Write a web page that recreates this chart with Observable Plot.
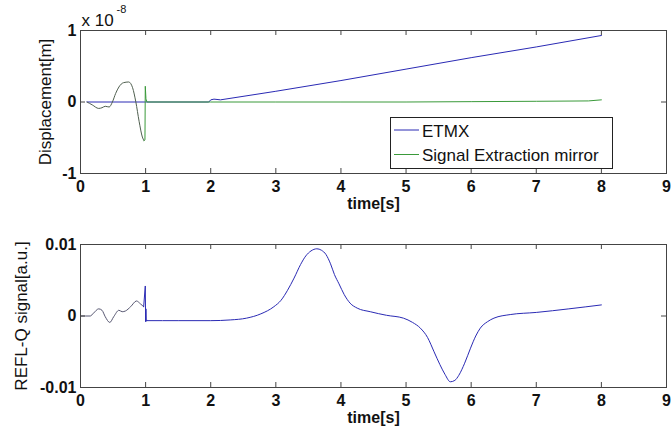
<!DOCTYPE html>
<html><head><meta charset="utf-8">
<script src="https://cdn.jsdelivr.net/npm/d3@7"></script>
<script src="https://cdn.jsdelivr.net/npm/@observablehq/plot@0.6"></script>
<style>
body{margin:0;background:#fff}
#wrap{position:relative;width:672px;height:436px;overflow:hidden;background:#fff;font-family:"Liberation Sans",Arial,sans-serif}
#wrap > svg{position:absolute;left:0}
</style>
</head><body><div id="wrap"></div>
<script>
// ---- data ----
const timeTicks = [0, 1, 2, 3, 4, 5, 6, 7, 8, 9];
const dispTicks = [-1e-8, 0, 1e-8];
const reflTicks = [-0.01, 0, 0.01];
const seriesNames = ["ETMX", "Signal Extraction mirror"];

// ETMX displacement [m]
const etmxT = [0.1, 1.0, 1.97, 2.0, 2.05, 2.15, 3, 4, 5, 6, 7, 8];
const etmxY = [0, 0, 0, 0.03e-8, 0.04e-8, 0.03e-8, 0.15e-8, 0.30e-8, 0.46e-8, 0.62e-8, 0.77e-8, 0.93e-8];

// Signal Extraction mirror displacement [m]
const semT = [0.1, 0.18, 0.28, 0.33, 0.38, 0.44, 0.49, 0.54, 0.59, 0.66, 0.74, 0.8, 0.85, 0.9, 0.95, 0.975, 0.99, 0.995, 1.005, 1.01, 1.02, 2, 3, 4, 5, 6, 7, 7.8, 8];
const semY = [0, -0.04e-8, -0.09e-8, -0.08e-8, -0.06e-8, -0.07e-8, 0, 0.12e-8, 0.21e-8, 0.27e-8, 0.28e-8, 0.2e-8, 0, -0.27e-8, -0.49e-8, -0.54e-8, -0.53e-8, 0.22e-8, 0.05e-8, 0.03e-8, 0, 0, 0, 0, 0, 0.005e-8, 0.01e-8, 0.015e-8, 0.03e-8];

// REFL-Q signal [a.u.]
const reflT = [0, 0.15, 0.2, 0.28, 0.33, 0.38, 0.45, 0.51, 0.59, 0.64, 0.69, 0.77, 0.86, 0.92, 0.97, 0.995, 1.0, 1.005, 1.01, 1.02, 1.5, 2.0, 2.3, 2.55, 2.77, 2.97, 3.08, 3.18, 3.28, 3.38, 3.46, 3.54, 3.63, 3.7, 3.77, 3.84, 3.9, 3.97, 4.05, 4.14, 4.25, 4.45, 4.7, 4.96, 5.1, 5.22, 5.33, 5.43, 5.52, 5.6, 5.68, 5.75, 5.81, 5.9, 5.99, 6.07, 6.14, 6.25, 6.35, 6.6, 7.0, 7.5, 8.0];
const reflY = [0, 0, 0.0004, 0.0010, 0.0008, -0.0001, -0.0009, -0.0001, 0.0008, 0.0006, 0.0007, 0.0013, 0.0021, 0.0017, 0.0013, 0.0042, -0.0008, 0.0010, -0.0007, -0.00065, -0.00065, -0.00065, -0.00055, -0.0003, 0.0003, 0.0013, 0.0022, 0.0036, 0.0053, 0.0072, 0.0084, 0.0091, 0.0094, 0.0092, 0.0086, 0.0073, 0.0058, 0.0045, 0.0030, 0.0018, 0.0011, 0.0006, 0.0001, -0.0003, -0.0009, -0.0017, -0.0030, -0.0050, -0.0068, -0.0082, -0.0092, -0.0090, -0.0083, -0.0066, -0.0045, -0.0028, -0.0017, -0.0008, -0.0003, 0.0002, 0.0005, 0.0010, 0.00155];

// ---- styles ----
const BLUE = "#2a2ab4", GREEN = "#3a9a3a", GRAYG = "#4f5f4f", GRAYB = "#555570";
const FONT = "'Liberation Sans', Arial, sans-serif";
const W = 672, H = 218, ML = 80, MR = 6;

const rows = (T, Y) => T.map((t, i) => ({t, v: Y[i]}));
const etmx = rows(etmxT, etmxY), sem = rows(semT, semY), refl = rows(reflT, reflY);

function panel({mt, mb, yDomain, yTicks, yFmt, ylabel, ylabelDx, lines, extra = []}) {
  const innerH = H - mt - mb, innerW = W - ML - MR;
  return Plot.plot({
    width: W, height: H,
    marginLeft: ML, marginRight: MR, marginTop: mt, marginBottom: mb,
    style: {fontFamily: FONT, fontSize: "17px", color: "#111", background: "#fff", overflow: "visible"},
    x: {domain: [0, 9]},
    y: {domain: yDomain},
    marks: [
      ...lines,
      Plot.frame({stroke: "#444", strokeWidth: 1}),
      Plot.tickX(timeTicks, {x: d => d, insetTop: innerH - 5, stroke: "#444"}),
      Plot.tickX(timeTicks, {x: d => d, insetBottom: innerH - 5, stroke: "#444"}),
      Plot.tickY(yTicks, {y: d => d, insetRight: innerW - 5, stroke: "#444"}),
      Plot.tickY(yTicks, {y: d => d, insetLeft: innerW - 5, stroke: "#444"}),
      Plot.axisX({ticks: timeTicks, tickSize: 0, tickPadding: 7, label: null, fontSize: 16, fontWeight: "bold", tickFormat: d => String(d)}),
      Plot.axisY({ticks: yTicks, tickSize: 0, tickPadding: 4, label: null, fontSize: 16, fontWeight: "bold", tickFormat: yFmt}),
      Plot.text(["time[s]"], {frameAnchor: "bottom", text: d => d, textAnchor: "middle", lineAnchor: "middle", dy: 30, fontSize: 16, fontWeight: "bold"}),
      Plot.text([ylabel], {frameAnchor: "left", text: d => d, textAnchor: "middle", lineAnchor: "middle", rotate: -90, dx: ylabelDx, fontSize: 17}),
      ...extra
    ]
  });
}

const topPanel = panel({
  mt: 30, mb: 45,
  yDomain: [-1e-8, 1e-8], yTicks: dispTicks,
  yFmt: d => d === 0 ? "0" : String(Math.round(d / 1e-8)),
  ylabel: "Displacement[m]", ylabelDx: -35,
  lines: [
    Plot.line(etmx, {x: "t", y: "v", stroke: BLUE, strokeWidth: 1}),
    Plot.line(sem, {filter: d => d.t <= 0.975, x: "t", y: "v", stroke: GRAYG, strokeWidth: 1, curve: "monotone-x"}),
    Plot.line(sem, {filter: d => d.t >= 0.975, x: "t", y: "v", stroke: GREEN, strokeWidth: 1})
  ],
  extra: [
    Plot.text(["x 10"], {frameAnchor: "top-left", text: d => d, textAnchor: "start", lineAnchor: "middle", dx: 1, dy: -10, fontSize: 17}),
    Plot.text(["-8"], {frameAnchor: "top-left", text: d => d, textAnchor: "start", lineAnchor: "middle", dx: 36, dy: -21, fontSize: 11})
  ]
});
topPanel.style.top = "0px";

const bottomPanel = panel({
  mt: 26, mb: 49,
  yDomain: [-0.01, 0.01], yTicks: reflTicks,
  yFmt: d => d === 0 ? "0" : String(d),
  ylabel: "REFL-Q signal[a.u.]", ylabelDx: -59,
  lines: [
    Plot.line(refl, {filter: d => d.t <= 0.97, x: "t", y: "v", stroke: GRAYB, strokeWidth: 1, curve: "monotone-x"}),
    Plot.line(refl, {filter: d => d.t >= 0.97 && d.t <= 1.02, x: "t", y: "v", stroke: BLUE, strokeWidth: 1}),
    Plot.line(refl, {filter: d => d.t >= 1.02, x: "t", y: "v", stroke: BLUE, strokeWidth: 1, curve: "monotone-x"})
  ]
});
bottomPanel.style.top = "218px";

const wrap = document.getElementById("wrap");
wrap.append(topPanel, bottomPanel);

// ---- legend ----
const lg = d3.create("svg")
  .attr("width", 223).attr("height", 52)
  .style("position", "absolute").style("left", "390px").style("top", "117px");
lg.append("rect").attr("x", 0.5).attr("y", 0.5).attr("width", 222).attr("height", 51)
  .attr("fill", "#fff").attr("stroke", "#222");
const legendColors = [BLUE, GREEN];
seriesNames.forEach((name, i) => {
  const cy = 13 + i * 24.5;
  lg.append("line").attr("x1", 4).attr("x2", 29).attr("y1", cy).attr("y2", cy)
    .attr("stroke", legendColors[i]).attr("stroke-width", 1);
  lg.append("text").attr("x", 32).attr("y", cy + 6.5)
    .attr("font-family", FONT).attr("font-size", 17).attr("fill", "#111").text(name);
});
wrap.append(lg.node());
</script>
</body></html>
